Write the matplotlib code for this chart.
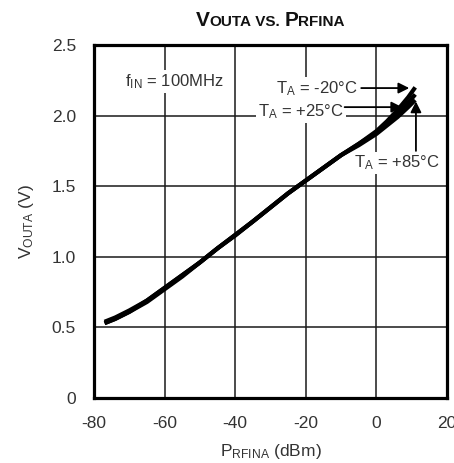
import matplotlib
matplotlib.use("Agg")
import matplotlib.pyplot as plt
from matplotlib import font_manager

# font: condensed sans if there is one
names = {f.name for f in font_manager.fontManager.ttflist}
narrow = "Liberation Sans Narrow" if "Liberation Sans Narrow" in names else "Liberation Sans"
plt.rcParams["font.family"] = [narrow, "DejaVu Sans"]
plt.rcParams["mathtext.fontset"] = "custom"
plt.rcParams["mathtext.rm"] = narrow
plt.rcParams["mathtext.it"] = narrow
plt.rcParams["axes.unicode_minus"] = False

# data
p_rfin = [-77, -74, -70, -65, -60, -55, -50, -45, -40, -35, -30, -25, -20,
          -15, -10, -5, 0, 3, 6, 9, 11]
vout_m20 = [0.54, 0.57, 0.62, 0.69, 0.78, 0.87, 0.96, 1.06, 1.155, 1.25, 1.35,
            1.45, 1.54, 1.63, 1.72, 1.80, 1.89, 1.96, 2.04, 2.13, 2.20]
vout_25 = [0.53, 0.56, 0.61, 0.69, 0.78, 0.87, 0.96, 1.06, 1.155, 1.25, 1.35,
           1.45, 1.54, 1.63, 1.72, 1.80, 1.88, 1.94, 2.01, 2.09, 2.15]
vout_85 = [0.53, 0.56, 0.61, 0.68, 0.77, 0.86, 0.96, 1.06, 1.15, 1.25, 1.35,
           1.45, 1.54, 1.63, 1.72, 1.79, 1.87, 1.93, 1.99, 2.06, 2.11]

xticks = [-80, -60, -40, -20, 0, 20]
yticks = [0, 0.5, 1.0, 1.5, 2.0, 2.5]
ytick_labels = ["0", "0.5", "1.0", "1.5", "2.0", "2.5"]

txt = "#333333"

fig = plt.figure(figsize=(4.54, 4.63), dpi=100)
ax = fig.add_axes([0.207, 0.1404, 0.7776, 0.7624])

for v in (vout_85, vout_25, vout_m20):
    ax.plot(p_rfin, v, color="black", lw=3.0, solid_capstyle="butt", zorder=3)

ax.set_xlim(-80, 20)
ax.set_ylim(0, 2.5)
ax.set_xticks(xticks)
ax.set_yticks(yticks)
ax.set_yticklabels(ytick_labels)
ax.tick_params(length=0, labelsize=12.5, colors=txt)
ax.tick_params(axis="y", pad=13)
ax.tick_params(axis="x", pad=13)
ax.grid(True, color="#1a1a1a", lw=1.1)
ax.set_axisbelow(True)
for s in ax.spines.values():
    s.set_linewidth(2.3)
    s.set_color("black")

ax.set_xlabel(r"P$_{\mathrm{RFINA}}$ (dBm)", fontsize=12.5, color=txt, labelpad=8)
ax.set_ylabel(r"V$_{\mathrm{OUTA}}$ (V)", fontsize=12.5, color=txt, labelpad=11)

box = dict(facecolor="white", edgecolor="none", pad=1.5)
ax.text(-71.2, 2.24, r"f$_{\mathrm{IN}}$ = 100MHz", fontsize=12, color=txt,
        ha="left", va="center", bbox=box, zorder=2)

arrow = dict(arrowstyle="-|>", color="black", lw=1.3, mutation_scale=16,
             shrinkA=0, shrinkB=0)
ax.annotate("", xy=(9.3, 2.195), xytext=(-4.3, 2.195), arrowprops=arrow, zorder=2.5)
ax.text(-5.3, 2.19, r"T$_{\mathrm{A}}$ = -20°C", fontsize=12, color=txt,
        ha="right", va="center", bbox=box, zorder=2)

ax.annotate("", xy=(7.3, 2.06), xytext=(-9.0, 2.06), arrowprops=arrow, zorder=2.5)
ax.text(-9.3, 2.03, r"T$_{\mathrm{A}}$ = +25°C", fontsize=12, color=txt,
        ha="right", va="center", bbox=box, zorder=2)

ax.annotate("", xy=(11.2, 2.10), xytext=(11.2, 1.75), arrowprops=arrow, zorder=2.5)
ax.text(5.7, 1.665, r"T$_{\mathrm{A}}$ = +85°C", fontsize=12, color=txt,
        ha="center", va="center", bbox=box, zorder=2)

# small-caps style title built from pieces
pieces = [("V", 15), ("OUTA", 11), (" VS. ", 11), ("P", 15), ("RFINA", 11)]
fig.canvas.draw()
r = fig.canvas.get_renderer()
handles = []
x = 0.0
for s, size in pieces:
    t = fig.text(0, 1 - 26 / 463, s, fontsize=size, fontweight="bold",
                 color="#111111", ha="left", va="baseline")
    w = t.get_window_extent(r).width / fig.bbox.width
    handles.append((t, x))
    x += w
start = 270 / 454 - x / 2
for t, off in handles:
    t.set_x(start + off)

fig.savefig("out.png", dpi=100)
